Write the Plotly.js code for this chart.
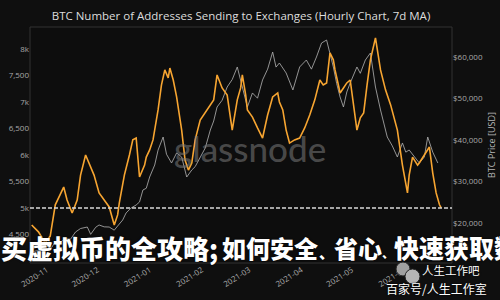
<!DOCTYPE html>
<html><head><meta charset="utf-8">
<script src="https://cdn.plot.ly/plotly-3.0.1.min.js"></script>
<style>html,body{margin:0;padding:0;background:#0f0f0f;}#chart{width:500px;height:300px;}</style>
</head><body><div id="chart"></div>
<script>
// ---- data ----
const addrDates = ['2020-10-23','2020-10-27','2020-10-31','2020-11-03','2020-11-06','2020-11-09','2020-11-11','2020-11-13','2020-11-16','2020-11-19','2020-11-21','2020-11-24','2020-11-26','2020-11-29','2020-12-02','2020-12-05','2020-12-08','2020-12-11','2020-12-13','2020-12-14','2020-12-17','2020-12-20','2020-12-22','2020-12-24','2020-12-26','2020-12-29','2020-12-30','2021-01-01','2021-01-03','2021-01-06','2021-01-08','2021-01-10','2021-01-12','2021-01-13','2021-01-15','2021-01-17','2021-01-20','2021-01-22','2021-01-24','2021-01-26','2021-01-28','2021-01-31','2021-02-03','2021-02-06','2021-02-08','2021-02-10','2021-02-13','2021-02-16','2021-02-19','2021-02-22','2021-02-24','2021-02-25','2021-02-27','2021-02-28','2021-03-03','2021-03-06','2021-03-09','2021-03-12','2021-03-15','2021-03-18','2021-03-19','2021-03-21','2021-03-23','2021-03-25','2021-03-28','2021-03-31','2021-04-03','2021-04-06','2021-04-09','2021-04-12','2021-04-14','2021-04-16','2021-04-18','2021-04-20','2021-04-21','2021-04-23','2021-04-24','2021-04-26','2021-04-28','2021-04-30','2021-05-02','2021-05-04','2021-05-06','2021-05-08','2021-05-10','2021-05-12','2021-05-15','2021-05-16','2021-05-18','2021-05-21','2021-05-24','2021-05-28','2021-05-31','2021-06-03','2021-06-04','2021-06-06','2021-06-09','2021-06-10','2021-06-13','2021-06-16','2021-06-18','2021-06-20','2021-06-22','2021-06-23'];
const addrValues = [4680,4550,4340,4470,5060,5245,5395,5150,4905,5150,5620,6000,5850,5620,5285,5150,5020,4680,4870,5095,5620,6000,6285,6320,5585,5810,5960,6095,6285,6850,7320,7605,7455,7640,7415,7095,6470,5905,5715,5850,6285,6660,6810,6945,7040,7510,7265,7130,6470,7040,7265,7510,7130,6850,6715,6510,6320,6755,7095,7170,7000,6850,6470,6225,6285,6320,6510,6755,7040,7415,7320,7360,7925,7795,7605,7320,7170,7265,7360,7415,6945,6470,6700,6795,7320,7795,8210,8020,7605,7225,6945,6470,5810,5285,5620,5960,5810,5850,6000,6150,5660,5285,5060,5000];

const priceDates = ['2020-10-22','2020-10-25','2020-10-28','2020-11-01','2020-11-04','2020-11-06','2020-11-09','2020-11-12','2020-11-15','2020-11-18','2020-11-21','2020-11-25','2020-11-27','2020-11-30','2020-12-02','2020-12-05','2020-12-08','2020-12-11','2020-12-13','2020-12-16','2020-12-18','2020-12-21','2020-12-24','2020-12-26','2020-12-28','2020-12-30','2021-01-01','2021-01-04','2021-01-06','2021-01-09','2021-01-11','2021-01-14','2021-01-17','2021-01-20','2021-01-23','2021-01-26','2021-01-28','2021-01-31','2021-02-03','2021-02-06','2021-02-08','2021-02-10','2021-02-13','2021-02-16','2021-02-19','2021-02-22','2021-02-25','2021-02-28','2021-03-03','2021-03-06','2021-03-09','2021-03-12','2021-03-15','2021-03-17','2021-03-19','2021-03-23','2021-03-27','2021-03-31','2021-04-04','2021-04-07','2021-04-10','2021-04-13','2021-04-16','2021-04-18','2021-04-20','2021-04-22','2021-04-24','2021-04-26','2021-04-28','2021-04-30','2021-05-04','2021-05-06','2021-05-09','2021-05-12','2021-05-15','2021-05-18','2021-05-19','2021-05-22','2021-05-25','2021-05-28','2021-05-31','2021-06-02','2021-06-04','2021-06-07','2021-06-10','2021-06-13','2021-06-15','2021-06-18','2021-06-21'];
const priceValues = [12900,13100,13400,13700,14100,15500,15300,16200,16000,17760,18600,18960,17200,18900,19450,19000,18960,18200,19200,20650,22340,23540,24270,25000,27880,28300,31010,33900,37500,40650,36500,34390,36800,35830,31010,32700,33500,35830,38000,42340,44500,47880,49500,52700,54500,57520,52700,47880,51260,50000,54390,57000,61130,57500,58480,56070,51980,57520,59200,57000,59930,63300,64020,60890,57520,53500,50290,47880,51500,53670,57520,56000,59200,60890,52700,47160,45470,40650,38500,35830,39210,37000,37520,36000,34390,35830,40650,37000,34390];

const leftTickVals = [4500,5000,5500,6000,6500,7000,7500,8000];
const leftTickText = ['4,500','5k','5,500','6k','6,500','7k','7,500','8k'];
const rightTickVals = [20000,30000,40000,50000,60000];
const rightTickText = ['$20,000','$30,000','$40,000','$50,000','$60,000'];
const thresholdValue = 5000;

const chartTitle = 'BTC Number of Addresses Sending to Exchanges (Hourly Chart, 7d MA)';
const rightAxisTitle = 'BTC Price [USD]';
const overlaySegments = ['买虚拟币的全攻略;', '如何安全', '、', '省心', '、', '快速获取数'];
const badgeLine1 = '人生工作吧';
const badgeLine2 = '百家号/人生工作室';

// ---- layout helpers (pixel -> paper) ----
const L = 30, R = 452, T = 27, B = 263;
const PX = X => (X - L) / (R - L);
const PY = Y => (B - Y) / (B - T);

const tickFont = {family: 'Open Sans, DejaVu Sans, sans-serif', size: 8, color: '#a9a9a9'};

const traces = [
  {x: priceDates, y: priceValues, type: 'scatter', mode: 'lines', yaxis: 'y',
   line: {color: 'rgba(170,170,170,0.85)', width: 1}, hoverinfo: 'skip'},
  {x: addrDates, y: addrValues, type: 'scatter', mode: 'lines', yaxis: 'y2',
   line: {color: '#f7a531', width: 1.6}, hoverinfo: 'skip'}
];

const cjkFont = (size) => ({family: 'Noto Sans CJK SC, sans-serif', size: size, color: '#ffffff', weight: 900, shadow: '0px 0px 2px #000'});

const segStarts = [0, 221, 318, 333, 381, 393];
const segSizes = [26, 24, 15, 24, 12, 25];
const segY = [247, 247, 251, 247, 252, 247];
const annotations = [
  {text: 'glassnode', xref: 'paper', yref: 'paper', x: PX(250), y: PY(148), showarrow: false,
   xanchor: 'center', yanchor: 'middle',
   font: {family: 'Lato, Inter, sans-serif', size: 35, color: 'rgba(125,125,125,0.55)', weight: 500}},
  {text: badgeLine1, xref: 'paper', yref: 'paper', x: PX(421), y: PY(279), showarrow: false,
   xanchor: 'left', yanchor: 'bottom', borderpad: 0,
   font: {family: 'Noto Sans CJK SC, sans-serif', size: 11.5, color: '#ffffff', shadow: '0px 0px 2px #000'}},
  {text: badgeLine2, xref: 'paper', yref: 'paper', x: PX(385), y: PY(279), showarrow: false,
   xanchor: 'left', yanchor: 'top', borderpad: 0,
   font: {family: 'Noto Sans CJK SC, sans-serif', size: 12, color: '#ffffff', shadow: '0px 0px 2px #000'}}
];
overlaySegments.forEach((s, i) => {
  annotations.push({text: s, xref: 'paper', yref: 'paper', x: PX(segStarts[i]), y: PY(segY[i]),
    showarrow: false, xanchor: 'left', yanchor: 'middle', borderpad: 0, font: cjkFont(segSizes[i])});
});

const shapes = [
  {type: 'rect', xref: 'paper', yref: 'paper', x0: 0, x1: 1, y0: 0, y1: 1,
   line: {color: '#333333', width: 1}, layer: 'below'},
  {type: 'line', xref: 'paper', yref: 'y2', x0: 0, x1: 1, y0: thresholdValue, y1: thresholdValue,
   line: {color: '#d8d8d8', width: 1.5, dash: '4px,2px'}},
  {type: 'circle', xref: 'paper', yref: 'paper', x0: PX(396), x1: PX(410), y0: PY(276), y1: PY(262),
   fillcolor: '#a0a0a0', line: {color: '#222', width: 1}},
  {type: 'circle', xref: 'paper', yref: 'paper', x0: PX(405), x1: PX(420), y0: PY(284), y1: PY(269),
   fillcolor: '#b5b5b5', line: {color: '#222', width: 1}}
];

const layout = {
  width: 500, height: 300,
  margin: {l: L, r: 500 - R, t: T, b: 300 - B, pad: 0},
  paper_bgcolor: '#0f0f0f', plot_bgcolor: '#0d0d0d',
  showlegend: false,
  title: {text: chartTitle, x: PX(241), xref: 'paper', xanchor: 'center', y: 1 - 16/300, yref: 'container', yanchor: 'middle',
          font: {family: 'Open Sans, sans-serif', size: 11.5, color: '#dddddd'}},
  xaxis: {type: 'date', range: ['2020-10-22', '2021-06-29 10:00'], dtick: 'M1', tickformat: '%Y-%m',
          tickangle: -32, showgrid: false, zeroline: false, showline: false, ticks: '',
          tickfont: tickFont},
  yaxis: {side: 'right', range: [10289, 67157], tickvals: rightTickVals, ticktext: rightTickText,
          showgrid: false, zeroline: false, showline: false, ticks: '', tickfont: tickFont,
          title: {text: rightAxisTitle, standoff: 6, font: {family: 'Open Sans, sans-serif', size: 9, color: '#b5b5b5'}}},
  yaxis2: {overlaying: 'y', side: 'left', range: [3962, 8415], tickvals: leftTickVals, ticktext: leftTickText,
           showgrid: false, zeroline: false, showline: false, ticks: '', tickfont: tickFont},
  annotations: annotations,
  shapes: shapes
};

Plotly.newPlot('chart', traces, layout, {staticPlot: true, displayModeBar: false});
</script>
</body></html>
